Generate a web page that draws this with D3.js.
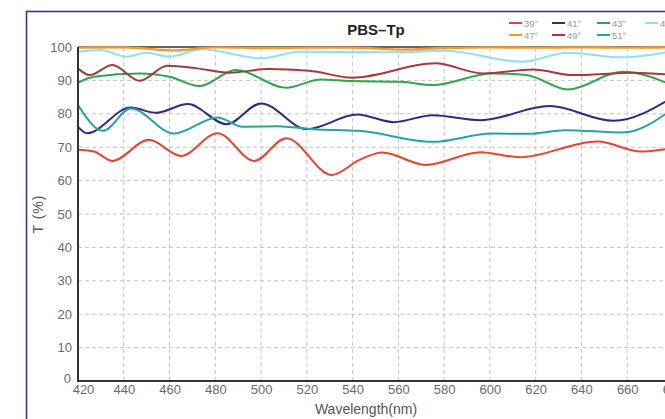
<!DOCTYPE html>
<html><head><meta charset="utf-8">
<script src="https://cdn.jsdelivr.net/npm/d3@7"></script>
<style>body{margin:0;background:#fff;overflow:hidden}svg{display:block}</style>
</head><body>
<script>
// ---- data ----
const xTicks = [420,440,460,480,500,520,540,560,580,600,620,640,660,680];
const yTicks = [0,10,20,30,40,50,60,70,80,90,100];
const seriesNames = ["39°","41°","43°","45°","47°","49°","51°"];
const seriesColors = ["#e8432f","#2e2a85","#2ea64c","#93def0","#f29a2e","#a53a3a","#27a3a3"];

const wl39 = [420,427,435,451,465,481,497,511,531,543,553,572,596,613,647,666,680];
const t39  = [69.2,68.7,65.9,72.2,67.4,74.2,65.9,72.7,61.7,66.2,68.4,64.7,68.5,67.0,71.7,68.7,69.8];

const wl41 = [420,424,443,454,468,485,500,520,542,558,575,596,626,654,680];
const t41  = [76.1,74.2,81.9,80.3,82.9,76.9,83.1,75.4,79.8,77.5,79.6,78.1,82.3,77.9,85.0];

const wl43 = [420,427,447,460,473,489,511,526,539,561,575,601,616,634,658,680];
const t43  = [89.3,91.1,92.1,91.1,88.3,93.1,87.8,90.3,89.8,89.6,88.6,92.1,91.6,87.3,92.6,88.5];

const wl45 = [420,430,441,450,460,474,500,517,560,580,614,634,657,680];
const t45  = [98.6,99.1,97.1,98.3,97.1,99.3,96.6,98.6,98.4,98.9,95.6,98.3,96.9,98.8];

const wl47 = [420,440,462,480,500,520,540,562,580,600,620,640,660,680];
const t47  = [99.8,99.9,99.0,99.9,99.7,99.8,99.8,99.2,99.7,99.9,99.8,99.9,99.8,99.9];

const wl49 = [420,425,435,447,459,472,486,503,521,540,576,597,619,636,663,680];
const t49  = [93.6,91.6,94.6,89.9,94.4,93.6,92.3,93.4,92.9,90.8,95.1,92.1,93.3,91.6,92.3,91.6];

const wl51 = [420,431,443,462,481,492,507,523,543,575,601,617,633,658,680];
const t51  = [82.6,74.9,81.6,74.1,78.9,76.1,76.3,75.4,74.9,71.6,74.1,74.0,75.1,74.4,81.5];

const seriesWl = [wl39,wl41,wl43,wl45,wl47,wl49,wl51];
const seriesT  = [t39,t41,t43,t45,t47,t49,t51];

// ---- layout ----
const W = 665, H = 419;
const svg = d3.select("body").append("svg").attr("width",W).attr("height",H);
const font = "'Liberation Sans', Arial, Helvetica, sans-serif";

svg.append("rect").attr("x",26.5).attr("y",11.5).attr("width",700).attr("height",450)
  .attr("fill","#fff").attr("stroke","#2b3a96").attr("stroke-width",1.6);

const x = d3.scaleLinear().domain([420,680]).range([78,673]);
const y = d3.scaleLinear().domain([0,100]).range([381,47]);

// grid
const g = svg.append("g");
g.selectAll(".vg").data(xTicks.slice(1)).join("line")
  .attr("x1",d=>x(d)).attr("x2",d=>x(d)).attr("y1",y(0)).attr("y2",y(100))
  .attr("stroke","#c4c4c4").attr("stroke-dasharray","4,3").attr("stroke-width",1);
g.selectAll(".hg").data(yTicks.slice(1,-1)).join("line")
  .attr("x1",x(420)).attr("x2",x(680)).attr("y1",d=>y(d)).attr("y2",d=>y(d))
  .attr("stroke","#c4c4c4").attr("stroke-dasharray","4,3").attr("stroke-width",1);

// series
const line = d3.line().x(d=>x(d[0])).y(d=>y(d[1])).curve(d3.curveMonotoneX);
svg.append("clipPath").attr("id","pc").append("rect")
  .attr("x",x(420)).attr("y",y(100)-3).attr("width",x(680)-x(420)).attr("height",y(0)-y(100)+3);
svg.append("line").attr("x1",x(420)).attr("x2",x(680)).attr("y1",y(100)).attr("y2",y(100))
  .attr("stroke","#333").attr("stroke-width",1.6);
const lines = svg.append("g").attr("clip-path","url(#pc)");
[0,1,2,3,5,6,4].forEach(i=>{
  const pts = seriesWl[i].map((w,j)=>[w,seriesT[i][j]]);
  lines.append("path").attr("d",line(pts)).attr("fill","none")
    .attr("stroke",seriesColors[i]).attr("stroke-width",i===4?2.4:2);
});

// axes
const xAxis = svg.append("g").attr("transform",`translate(0,${y(0)})`)
  .call(d3.axisBottom(x).tickValues(xTicks).tickSize(0).tickPadding(3).tickFormat(d3.format("d")));
const yAxis = svg.append("g").attr("transform",`translate(${x(420)},0)`)
  .call(d3.axisLeft(y).tickValues(yTicks).tickSize(0).tickPadding(6));
[xAxis,yAxis].forEach(a=>{
  a.select(".domain").attr("stroke","#333").attr("stroke-width",2);
  a.selectAll("text").attr("fill","#6a6a6a").style("font-family",font).style("font-size","13px");
});
xAxis.select(".domain").attr("d",`M${x(420)-1},0H${x(680)}`);
yAxis.select(".domain").attr("d",`M0,${y(0)+1}V${y(100)}`);
xAxis.selectAll("text").attr("dy","0.8em");
xAxis.selectAll(".tick").filter(d=>d===420).select("text").attr("dx","5");
yAxis.selectAll(".tick").filter(d=>d===0).select("text").attr("dy","0.1em").attr("dx","-1");

// titles
svg.append("text").attr("x",376).attr("y",35).attr("text-anchor","middle")
  .style("font-family",font).style("font-size","15px").style("font-weight","bold")
  .attr("fill","#222").text("PBS–Tp");
svg.append("text").attr("x",366).attr("y",414).attr("text-anchor","middle")
  .style("font-family",font).style("font-size","14px").attr("fill","#555").text("Wavelength(nm)");
svg.append("text").attr("transform","translate(43,214) rotate(-90)").attr("text-anchor","middle")
  .style("font-family",font).style("font-size","14px").style("letter-spacing","1px")
  .attr("fill","#555").text("T (%)");

// legend
const legX = [509,552,597,645];
const leg = svg.append("g");
seriesNames.forEach((n,i)=>{
  const lx = legX[i%4], ly = i<4 ? 23 : 35;
  leg.append("line").attr("x1",lx).attr("x2",lx+13).attr("y1",ly).attr("y2",ly)
    .attr("stroke",seriesColors[i]).attr("stroke-width",2);
  leg.append("text").attr("x",lx+15).attr("y",ly+3.5)
    .style("font-family",font).style("font-size","9.5px").attr("fill","#999").text(n);
});
</script>
</body></html>
